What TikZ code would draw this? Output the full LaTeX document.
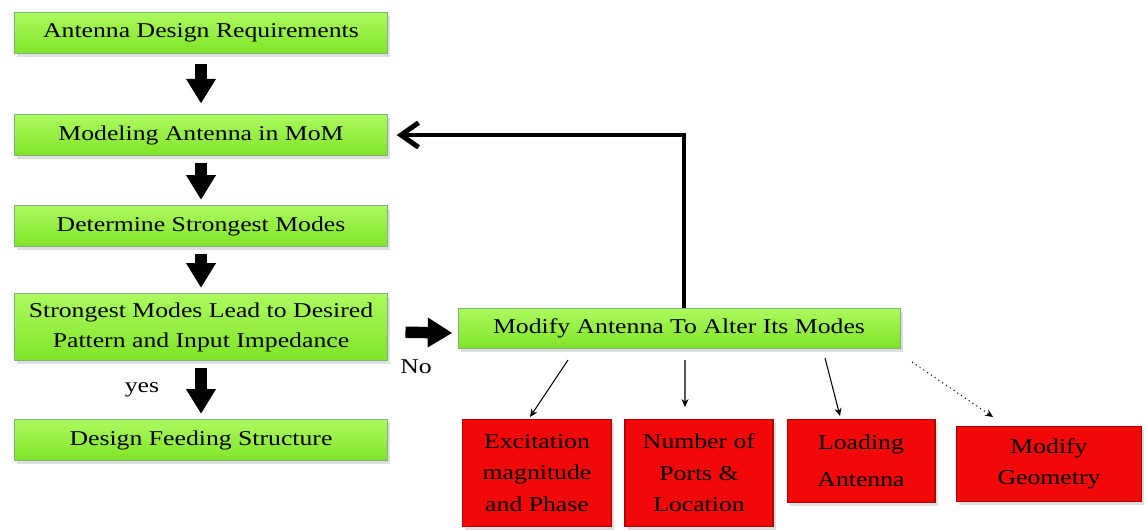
\documentclass[tikz,border=0pt]{standalone}
\usepackage{fontspec}
\setmainfont{Liberation Serif}[FakeStretch=1.22]
\usetikzlibrary{arrows.meta,shadows,positioning}

\definecolor{limetop}{RGB}{172,250,95}
\definecolor{limebot}{RGB}{128,228,40}
\definecolor{boxred}{RGB}{242,8,8}

\tikzset{
    greenbox/.style={draw=green!40!black!50, line width=0.5pt,
        top color=limetop, bottom color=limebot,
        minimum width=7.46cm, minimum height=0.82cm, align=center,
        font=\fontsize{12}{17}\selectfont,
        drop shadow={shadow xshift=1.5pt, shadow yshift=-2pt, opacity=0.25}},
    redbox/.style={draw=red!70!black, line width=0.6pt, fill=boxred,
        minimum width=2.96cm, minimum height=2.14cm, align=center,
        font=\fontsize{12}{18}\selectfont,
        drop shadow={shadow xshift=1.5pt, shadow yshift=-2pt, opacity=0.25}},
    bigarrow/.style={line width=6.5pt, -{Triangle[length=14pt,width=16pt]},
        shorten <=4pt, shorten >=3pt},
    thinarrow/.style={line width=0.6pt, -{Stealth[length=4.5pt,width=4pt]}},
    lbl/.style={font=\fontsize{12}{14}\selectfont}
}

\begin{document}
\begin{tikzpicture}[x=0.02cm, y=-0.02cm]
            \useasboundingbox (0,0) rectangle (1145,529);

            \node[greenbox] (req) at (201,33) {Antenna Design Requirements};
            \node[greenbox] (model) at (201,135) {Modeling Antenna in MoM};
            \node[greenbox] (modes) at (201,226) {Determine Strongest Modes};
            \node[greenbox, minimum height=1.34cm] (crit) at (201,327)
                {Strongest Modes Lead to Desired\\Pattern and Input Impedance};
            \node[greenbox] (feed) at (201,440) {Design Feeding Structure};
            \node[greenbox, minimum width=8.84cm, minimum height=0.8cm] (mod) at (679,328)
                {Modify Antenna To Alter Its Modes};

            \node[redbox, minimum width=2.98cm] (exc) at (537,473) {Excitation\\magnitude\\and Phase};
            \node[redbox] (ports) at (699,473) {Number of\\Ports \&\\Location};
            \node[redbox, minimum height=1.66cm, font=\fontsize{12}{21}\selectfont] (load) at (861,461)
                {Loading\\Antenna};
            \node[redbox, minimum width=3.7cm, minimum height=1.5cm] (geom) at (1049,464)
                {Modify\\Geometry};

            \node[lbl] (yes) at (142,390) {yes};
            \node[lbl] (no) at (416,367) {No};

            \draw[bigarrow, shorten <=6pt, shorten >=6pt] (req) -- (model);
            \draw[bigarrow] (model) -- (modes);
            \draw[bigarrow] (modes) -- (crit);
            \draw[bigarrow] (crit) -- (feed);
            \draw[bigarrow, shorten <=10pt] ([yshift=-0.1cm]crit.east) -- ([yshift=-0.1cm]mod.west);

            \draw[line width=2.8pt, -{Straight Barb[length=10pt,width=14pt]}, shorten >=5pt]
                ([xshift=0.1cm]mod.north) |- (model.east);

            \coordinate (m1) at (568,360);
            \coordinate (m2) at (685,360);
            \coordinate (m3) at (825,358);
            \coordinate (m4) at (912,362);
            \draw[thinarrow] (m1) -- ([xshift=-0.14cm,yshift=0.04cm]exc.north);
            \draw[thinarrow] (m2) -- ([xshift=-0.28cm,yshift=0.24cm]ports.north);
            \draw[thinarrow] (m3) -- ([xshift=-0.42cm,yshift=0.06cm]load.north);
            \draw[thinarrow, dotted] (m4) -- ([xshift=-1.12cm,yshift=0.18cm]geom.north);
        \end{tikzpicture}
\end{document}
